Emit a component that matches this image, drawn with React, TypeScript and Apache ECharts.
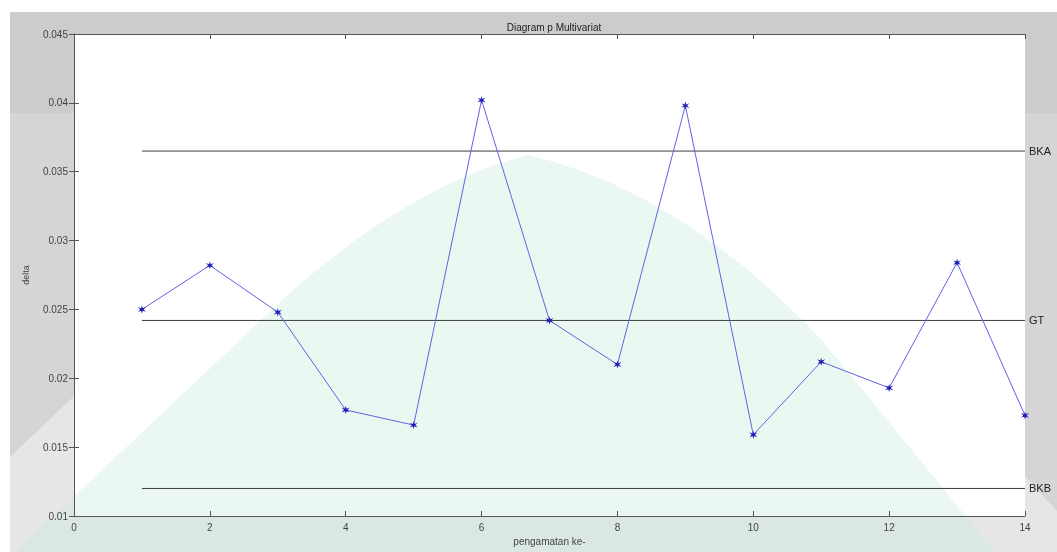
import React, { useEffect, useRef } from "react";
import * as echarts from "echarts";

// Observation index (pengamatan ke-) and the multivariate p statistic (delta)
const observations = [1, 2, 3, 4, 5, 6, 7, 8, 9, 10, 11, 12, 13, 14];
const deltaValues = [
  0.0250, 0.0282, 0.0248, 0.0177, 0.0166, 0.0402, 0.0242,
  0.0210, 0.0398, 0.0159, 0.0212, 0.0193, 0.0284, 0.0173,
];

// Control limits: upper (BKA), centre (GT), lower (BKB)
const limitNames = ["BKA", "GT", "BKB"];
const limitValues = [0.0365, 0.0242, 0.0120];
const limitFrom = 1;
const limitTo = 14;

const xMin = 0;
const xMax = 14;
const xStep = 2;
const yMin = 0.01;
const yMax = 0.045;
const yStep = 0.005;

const FONT = "'Liberation Sans', Arial, sans-serif";

// Background arch emblem behind the plot
const archOuterPath =
  "M -90 552 L 133 340 Q 330 150 528 112 Q 735 150 880 320 L 1095 552 Z";
const archInnerPath =
  "M 15 552 L 240 340 Q 390 190 528 155 Q 680 190 822 340 L 995 552 Z";
echarts.graphic.registerShape("archOuter", echarts.graphic.extendPath(archOuterPath, {}));
echarts.graphic.registerShape("archInner", echarts.graphic.extendPath(archInnerPath, {}));

const starSymbol =
  "path://M0,-10L2,-3L9,-6L4,0L9,6L2,3L0,10L-2,3L-9,6L-4,0L-9,-6L-2,-3Z";

const fmtY = (v: number) => String(+v.toFixed(3));

export default function App() {
  const ref = useRef<HTMLDivElement>(null);

  useEffect(() => {
    if (!ref.current) return;
    const chart = echarts.init(ref.current, undefined, { renderer: "svg" });

    const axisLine = { show: true, lineStyle: { color: "#555", width: 1 } };
    const tickIn = { show: true, inside: true, length: 5, lineStyle: { color: "#555" } };
    const labelStyle = { color: "#444", fontSize: 10, fontFamily: FONT };

    const limitSeries = limitNames.map((name, i) => ({
      name,
      type: "line",
      data: [
        [limitFrom, limitValues[i]],
        [limitTo, limitValues[i]],
      ],
      showSymbol: false,
      symbol: "none",
      silent: true,
      z: 4,
      lineStyle: { color: "#3c3c3c", width: 1 },
      endLabel: {
        show: true,
        formatter: name,
        distance: 4,
        color: "#222",
        fontSize: 11,
        fontFamily: FONT,
      },
    }));

    chart.setOption({
      animation: false,
      textStyle: { fontFamily: FONT },
      title: {
        text: "Diagram p Multivariat",
        left: 549,
        textAlign: "center",
        top: 17,
        textStyle: { fontSize: 10, fontWeight: "normal", color: "#222", fontFamily: FONT },
      },
      graphic: [
        { type: "rect", z: -20, shape: { x: 0, y: 0, width: 1057, height: 552 }, style: { fill: "#ffffff" } },
        { type: "rect", z: -19, shape: { x: 10, y: 12, width: 1047, height: 540 }, style: { fill: "#cccccc" } },
        { type: "rect", z: -18, shape: { x: 10, y: 113, width: 1047, height: 439 }, style: { fill: "rgba(255,255,255,0.18)" } },
        { type: "archOuter", z: 1, shape: {}, style: { fill: "rgba(255,255,255,0.4)" }, silent: true },
        { type: "archInner", z: 1, shape: {}, style: { fill: "rgba(200,235,215,0.36)" }, silent: true },
      ],
      grid: {
        left: 74,
        right: 32,
        top: 34,
        bottom: 36,
        show: true,
        backgroundColor: "#ffffff",
        borderWidth: 0,
      },
      xAxis: [
        {
          type: "value",
          min: xMin,
          max: xMax,
          interval: xStep,
          position: "bottom",
          z: 3,
          name: "pengamatan ke-",
          nameLocation: "middle",
          nameGap: 20,
          nameTextStyle: { color: "#444", fontSize: 10, fontFamily: FONT },
          axisLine,
          axisTick: tickIn,
          axisLabel: { ...labelStyle, margin: 6 },
          splitLine: { show: false },
        },
        {
          type: "value",
          min: xMin,
          max: xMax,
          interval: xStep,
          position: "top",
          z: 3,
          axisLine,
          axisTick: tickIn,
          axisLabel: { show: false },
          splitLine: { show: false },
        },
      ],
      yAxis: [
        {
          type: "value",
          min: yMin,
          max: yMax,
          interval: yStep,
          position: "left",
          z: 3,
          name: "delta",
          nameLocation: "middle",
          nameGap: 44,
          nameTextStyle: { color: "#444", fontSize: 9, fontFamily: FONT },
          axisLine,
          axisTick: tickIn,
          axisLabel: { ...labelStyle, margin: 6, formatter: fmtY },
          splitLine: { show: false },
        },
        {
          type: "value",
          min: yMin,
          max: yMax,
          interval: yStep,
          position: "right",
          z: 3,
          axisLine,
          axisTick: tickIn,
          axisLabel: { show: false },
          splitLine: { show: false },
        },
      ],
      series: [
        ...limitSeries,
        {
          name: "delta",
          type: "line",
          data: observations.map((o, i) => [o, deltaValues[i]]),
          symbol: starSymbol,
          symbolSize: 8,
          showSymbol: true,
          z: 5,
          itemStyle: { color: "#1f1fb8" },
          lineStyle: { color: "#6262e6", width: 1 },
        },
      ],
    });

    return () => chart.dispose();
  }, []);

  return (
    <div
      ref={ref}
      style={{ position: "fixed", left: 0, top: 0, width: 1057, height: 552 }}
    />
  );
}
